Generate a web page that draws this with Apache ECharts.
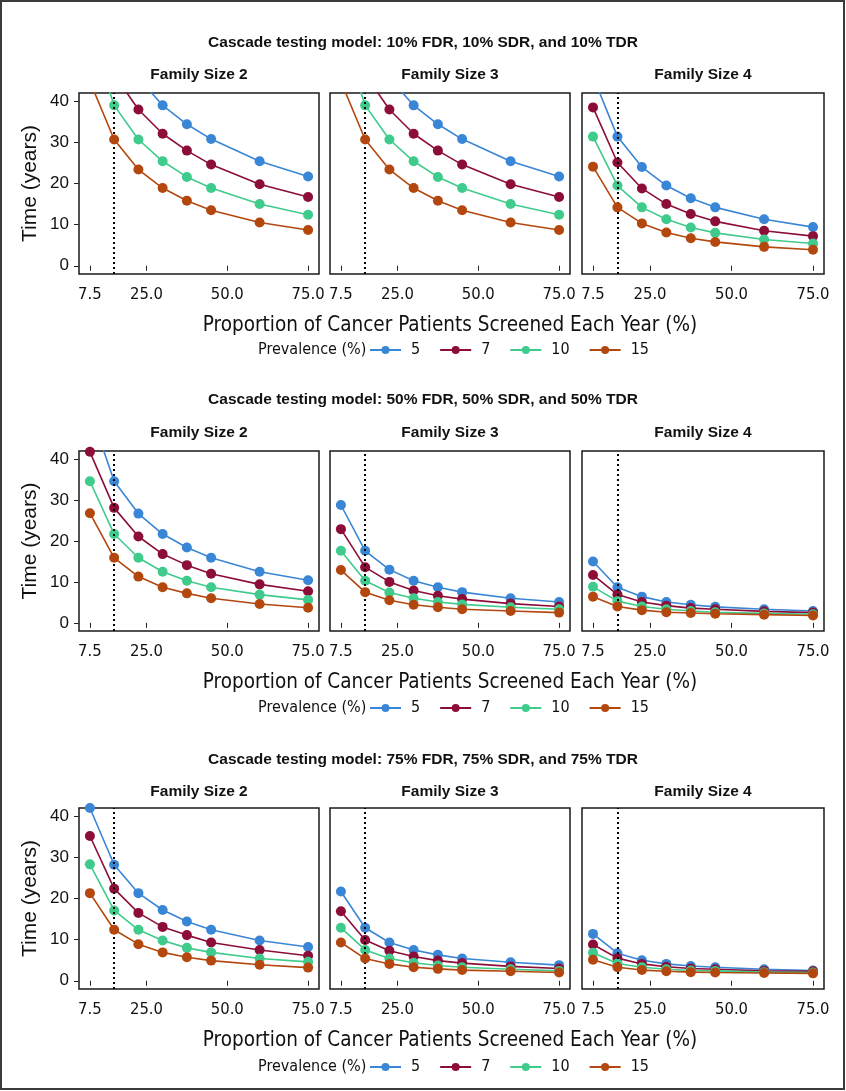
<!DOCTYPE html>
<html>
<head>
<meta charset="utf-8">
<script src="https://cdn.jsdelivr.net/npm/echarts@6/dist/echarts.min.js"></script>
<style>
html,body{margin:0;padding:0;background:#fff;}
#main{width:846px;height:1091px;}
</style>
</head>
<body>
<div id="main"></div>
<script>
// ---------- data ----------
const xValues = [7.5, 15, 22.5, 30, 37.5, 45, 60, 75];
const xTicks = [7.5, 25, 50, 75];
const yTicks = [0, 10, 20, 30, 40];
const prevalence = ['5', '7', '10', '15'];
const familySizes = ['Family Size 2', 'Family Size 3', 'Family Size 4'];
const modelTitles = [
  'Cascade testing model: 10% FDR, 10% SDR, and 10% TDR',
  'Cascade testing model: 50% FDR, 50% SDR, and 50% TDR',
  'Cascade testing model: 75% FDR, 75% SDR, and 75% TDR'
];
const referenceRate = 15;

// rows: prevalence 5, 7, 10, 15 ; columns follow xValues
const m10_f2 = [
  [83.0, 57.0, 45.6, 39.0, 34.4, 30.8, 25.4, 21.7],
  [67.0, 46.5, 38.0, 32.1, 28.0, 24.6, 19.8, 16.7],
  [56.6, 39.0, 30.7, 25.4, 21.6, 18.9, 15.0, 12.4],
  [44.8, 30.7, 23.4, 18.9, 15.8, 13.5, 10.5, 8.7]
];
const m10_f3 = [
  [83.0, 57.0, 45.6, 39.0, 34.4, 30.8, 25.4, 21.7],
  [67.0, 46.5, 38.0, 32.1, 28.0, 24.6, 19.8, 16.7],
  [56.6, 39.0, 30.7, 25.4, 21.6, 18.9, 15.0, 12.4],
  [44.8, 30.7, 23.4, 18.9, 15.8, 13.5, 10.5, 8.7]
];
const m10_f4 = [
  [46.0, 31.4, 24.0, 19.5, 16.4, 14.2, 11.3, 9.4],
  [38.5, 25.1, 18.8, 15.0, 12.6, 10.8, 8.5, 7.2],
  [31.4, 19.5, 14.2, 11.3, 9.3, 8.0, 6.4, 5.4],
  [24.1, 14.2, 10.3, 8.1, 6.7, 5.8, 4.6, 3.9]
];
const m50_f2 = [
  [51.9, 34.6, 26.7, 21.7, 18.4, 15.9, 12.5, 10.4],
  [41.8, 28.1, 21.1, 16.8, 14.1, 12.0, 9.4, 7.7],
  [34.6, 21.7, 15.9, 12.5, 10.3, 8.7, 6.9, 5.6],
  [26.8, 15.9, 11.3, 8.7, 7.2, 6.0, 4.6, 3.7]
];
const m50_f3 = [
  [28.8, 17.6, 13.0, 10.3, 8.7, 7.5, 6.0, 5.1],
  [22.9, 13.6, 10.0, 7.9, 6.6, 5.8, 4.7, 4.0],
  [17.6, 10.3, 7.4, 6.0, 5.1, 4.5, 3.8, 3.3],
  [12.9, 7.5, 5.5, 4.4, 3.8, 3.3, 2.9, 2.5]
];
const m50_f4 = [
  [15.0, 8.7, 6.4, 5.1, 4.4, 3.9, 3.3, 2.9],
  [11.7, 6.9, 5.1, 4.2, 3.6, 3.3, 2.8, 2.5],
  [8.8, 5.3, 4.0, 3.3, 2.9, 2.6, 2.3, 2.1],
  [6.4, 4.0, 3.1, 2.6, 2.4, 2.2, 2.0, 1.8]
];
const m75_f2 = [
  [42.0, 28.2, 21.3, 17.2, 14.4, 12.4, 9.8, 8.2],
  [35.2, 22.4, 16.5, 13.1, 11.1, 9.3, 7.5, 6.1],
  [28.3, 17.1, 12.4, 9.8, 8.0, 6.9, 5.4, 4.6],
  [21.3, 12.4, 8.9, 6.9, 5.7, 4.9, 3.9, 3.2]
];
const m75_f3 = [
  [21.7, 12.9, 9.3, 7.5, 6.3, 5.4, 4.5, 3.8],
  [16.9, 9.9, 7.3, 5.9, 4.9, 4.3, 3.5, 3.0],
  [12.9, 7.5, 5.4, 4.4, 3.7, 3.3, 2.8, 2.4],
  [9.3, 5.4, 4.1, 3.3, 2.9, 2.6, 2.3, 2.0]
];
const m75_f4 = [
  [11.4, 6.7, 5.0, 4.1, 3.6, 3.3, 2.8, 2.5],
  [8.8, 5.5, 4.1, 3.4, 3.0, 2.8, 2.4, 2.3],
  [6.8, 4.2, 3.3, 2.8, 2.5, 2.4, 2.1, 2.0],
  [5.1, 3.3, 2.6, 2.3, 2.1, 2.0, 1.9, 1.8]
];
const panels = [
  [m10_f2, m10_f3, m10_f4],
  [m50_f2, m50_f3, m50_f4],
  [m75_f2, m75_f3, m75_f4]
];

// ---------- styling / layout ----------
const colors = ['#3A86D6', '#8C0D37', '#3ECB8B', '#B3470E'];
const NARROW = "'Liberation Sans Narrow', 'DejaVu Sans Condensed', sans-serif";
const SANS = "'Liberation Sans', Arial, sans-serif";
const colLeft = [79, 330, 582];
const colRight = [319, 570, 824];
const rowTop = [93, 451, 808];
const rowBottom = [274, 631, 989];
const titleY = [43, 400, 760];
const famY = [75, 433, 792];
const legendY = [350, 708, 1067];

const grids = [], xAxes = [], yAxes = [], series = [], legends = [], graphics = [];

graphics.push({
  type: 'rect', shape: {x: 1, y: 1, width: 843, height: 1088},
  style: {fill: 'none', stroke: '#3a3a3a', lineWidth: 2}, silent: true, z: 100
});

for (let r = 0; r < 3; r++) {
  graphics.push({
    type: 'text', x: 423, y: titleY[r],
    style: {text: modelTitles[r], fill: '#111', font: "bold 15.5px " + SANS,
            textAlign: 'center', textVerticalAlign: 'middle'}
  });
  graphics.push({
    type: 'text', x: 258, y: legendY[r],
    style: {text: 'Prevalence (%)', fill: '#111', font: "16px " + NARROW,
            textAlign: 'left', textVerticalAlign: 'middle'}
  });
  legends.push({
    data: prevalence, left: 369, top: legendY[r] - 8, padding: 0,
    itemWidth: 31, itemHeight: 10, itemGap: 19,
    textStyle: {fontFamily: NARROW, fontSize: 16, color: '#111', padding: [0, 0, 0, 5]}
  });
  for (let c = 0; c < 3; c++) {
    const gi = r * 3 + c;
    graphics.push({
      type: 'text', x: (colLeft[c] + colRight[c]) / 2, y: famY[r],
      style: {text: familySizes[c], fill: '#111', font: "bold 15.5px " + SANS,
              textAlign: 'center', textVerticalAlign: 'middle'}
    });
    grids.push({
      left: colLeft[c], top: rowTop[r],
      width: colRight[c] - colLeft[c], height: rowBottom[r] - rowTop[r],
      show: true, borderColor: '#1a1a1a', borderWidth: 1.5, backgroundColor: 'transparent'
    });
    xAxes.push({
      type: 'value', gridIndex: gi, min: 4.125, max: 78.375,
      axisLine: {show: false},
      axisTick: {show: true, customValues: xTicks, length: 5, lineStyle: {color: '#222', width: 1}},
      axisLabel: {show: true, customValues: xTicks, formatter: v => Number(v).toFixed(1),
                  fontFamily: NARROW, fontSize: 16.5, color: '#111', margin: 12},
      splitLine: {show: false},
      name: (c === 1 ? 'Proportion of Cancer Patients Screened Each Year (%)' : ''),
      nameLocation: 'middle', nameGap: 41,
      nameTextStyle: {fontFamily: NARROW, fontSize: 20.5, color: '#111'}
    });
    yAxes.push({
      type: 'value', gridIndex: gi, min: -2, max: 42,
      axisLine: {show: false},
      axisTick: {show: c === 0, customValues: yTicks, length: 5, lineStyle: {color: '#222', width: 1}},
      axisLabel: {show: c === 0, customValues: yTicks, fontFamily: SANS, fontSize: 17, color: '#111', margin: 10},
      splitLine: {show: false},
      name: (c === 0 ? 'Time (years)' : ''),
      nameLocation: 'middle', nameGap: 38, nameRotate: 90,
      nameTextStyle: {fontFamily: SANS, fontSize: 21, color: '#111'}
    });
    const rows = panels[r][c];
    for (let s = 0; s < prevalence.length; s++) {
      const ser = {
        type: 'line', name: prevalence[s], xAxisIndex: gi, yAxisIndex: gi,
        data: xValues.map((x, i) => [x, rows[s][i]]),
        symbol: 'circle', symbolSize: 10, showSymbol: true,
        itemStyle: {color: colors[s]},
        lineStyle: {color: colors[s], width: 1.6},
        clip: true, z: 2 + s
      };
      if (s === 0) {
        ser.markLine = {
          silent: true, symbol: ['none', 'none'], label: {show: false},
          lineStyle: {color: '#000', type: [2, 3], width: 2},
          data: [{xAxis: referenceRate}]
        };
      }
      series.push(ser);
    }
  }
}

const chart = echarts.init(document.getElementById('main'));
chart.setOption({
  animation: false,
  backgroundColor: '#fff',
  grid: grids, xAxis: xAxes, yAxis: yAxes,
  legend: legends, series: series, graphic: graphics
});
</script>
</body>
</html>
